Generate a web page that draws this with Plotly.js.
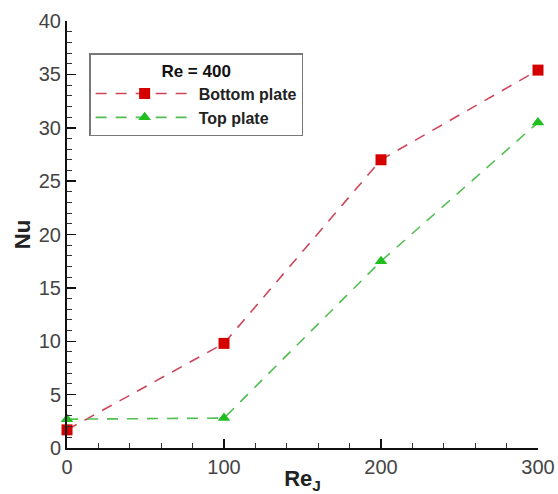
<!DOCTYPE html>
<html>
<head>
<meta charset="utf-8">
<script src="https://cdn.plot.ly/plotly-3.0.1.min.js"></script>
<style>html,body{margin:0;padding:0;background:#fff;}#chart{width:558px;height:494px;}</style>
</head>
<body>
<div id="chart"></div>
<script>
// Data
const reJ = [0, 100, 200, 300];
const nuBottom = [1.7, 9.8, 27.0, 35.4];
const nuTop = [2.7, 2.8, 17.5, 30.5];
const seriesNames = ['Bottom plate', 'Top plate'];
const legendTitle = 'Re = 400';
const xTickVals = [0, 100, 200, 300];
const yTickVals = [0, 5, 10, 15, 20, 25, 30, 35, 40];

const traces = [
  {
    x: reJ, y: nuBottom, name: seriesNames[0], type: 'scatter', mode: 'lines+markers',
    line: {color: 'rgb(205,70,90)', width: 1.6, dash: '11px,9px'},
    marker: {symbol: 'square', size: 11, color: '#d40000'},
    cliponaxis: false
  },
  {
    x: reJ, y: nuTop, name: seriesNames[1], type: 'scatter', mode: 'lines+markers',
    line: {color: 'rgb(80,190,80)', width: 1.6, dash: '11px,9px'},
    marker: {symbol: 'triangle-up', size: 11, color: '#1fbf1f'},
    cliponaxis: false
  }
];

const tickFont = {family: 'Liberation Sans, Arial, sans-serif', size: 20, color: '#444'};

const layout = {
  width: 558, height: 494,
  margin: {l: 67, r: 20, t: 21, b: 46},
  paper_bgcolor: '#fff', plot_bgcolor: '#fff',
  showlegend: true,
  legend: {
    x: 0.047, y: 0.925, xanchor: 'left', yanchor: 'top',
    bgcolor: '#fff', bordercolor: '#777', borderwidth: 1.5,
    font: {family: 'Liberation Sans, Arial, sans-serif', size: 16, color: '#222', weight: 'bold'},
    title: {text: '<b>' + legendTitle + '</b>', side: 'top center',
            font: {family: 'Liberation Sans, Arial, sans-serif', size: 17, color: '#111'}},
    itemwidth: 98, tracegroupgap: 0
  },
  xaxis: {
    range: [0, 300], tickvals: xTickVals, ticktext: xTickVals.map(String),
    showgrid: false, zeroline: false, showline: true, linecolor: '#111', linewidth: 2,
    ticks: 'inside', ticklen: 9, tickwidth: 1.5, tickcolor: '#111',
    minor: {dtick: 20, ticks: 'inside', ticklen: 5, tickwidth: 1, tickcolor: '#333'},
    tickfont: tickFont,
    title: {text: '<b>Re<sub>J</sub></b>', font: {family: 'Liberation Sans, Arial, sans-serif', size: 22, color: '#222'}, standoff: 0},
    automargin: false
  },
  yaxis: {
    range: [0, 40], tickvals: yTickVals, ticktext: yTickVals.map(String),
    showgrid: false, zeroline: false, showline: true, linecolor: '#111', linewidth: 2,
    ticks: 'inside', ticklen: 9, tickwidth: 1.5, tickcolor: '#111',
    minor: {dtick: 1, ticks: 'inside', ticklen: 5, tickwidth: 1, tickcolor: '#333'},
    tickfont: tickFont,
    title: {text: '<b>Nu</b>', font: {family: 'Liberation Sans, Arial, sans-serif', size: 22, color: '#222'}, standoff: 2},
    automargin: false
  }
};

Plotly.newPlot('chart', traces, layout, {displayModeBar: false, staticPlot: true});
</script>
</body>
</html>
